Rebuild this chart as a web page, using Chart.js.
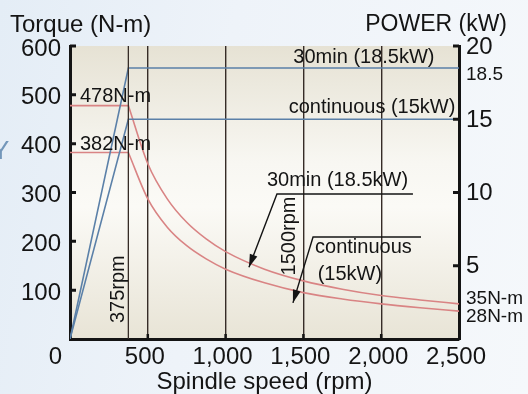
<!DOCTYPE html>
<html>
<head>
<meta charset="utf-8">
<script src="https://cdn.jsdelivr.net/npm/chart.js@4/dist/chart.umd.min.js"></script>
<style>
  html, body { margin: 0; padding: 0; }
  body {
    width: 528px; height: 394px; overflow: hidden;
    background: linear-gradient(100deg, #e4edf6 0%, #eef3f9 40%, #f5f8fb 100%);
  }
  canvas { display: block; }
</style>
</head>
<body>
<canvas id="c" width="528" height="394"></canvas>
<script>
// ---- data ----
// constant-torque region (0 .. base speed)
const flatRpm      = [0, 375];
const flat30min    = [478, 478];
const flatCont     = [382, 382];
// constant-power region (base speed .. max speed)
const curveRpm     = [375, 500, 625, 750, 875, 1000, 1250, 1500, 1750, 2000, 2250, 2500];
const curve30min   = [478, 359, 287, 239, 205, 179, 143, 119, 102, 89, 80, 72];
const curveCont    = [382, 287, 229, 191, 164, 143, 115, 95, 82, 72, 64, 57];
// power lines
const powerRpm     = [0, 375, 2500];
const power30min   = [0, 18.5, 18.5];
const powerCont    = [0, 15, 15];
// base-speed marker line
const baseRpm      = [375, 375];
const baseRange    = [0, 600];
// ticks
const xTickValues      = [0, 500, 1000, 1500, 2000, 2500];
const torqueTickValues = [0, 100, 200, 300, 400, 500, 600];
const powerTickValues  = [0, 5, 10, 15, 20];

const FONT = "'Liberation Sans', Arial, Helvetica, sans-serif";
const INK = '#141414';
const BLUE = '#5b80a8';
const RED = '#d98484';
const GRID = '#362c27';

const pts = (xs, ys) => xs.map((x, i) => ({ x: x, y: ys[i] }));

const bgPlugin = {
  id: 'plotBg',
  beforeDraw(chart) {
    const { ctx, chartArea: a } = chart;
    const g = ctx.createLinearGradient(0, a.top, 0, a.bottom);
    g.addColorStop(0, '#e6e2d4');
    g.addColorStop(0.4, '#f8f7f2');
    g.addColorStop(0.55, '#fbfaf6');
    g.addColorStop(1, '#e8e4d6');
    ctx.save();
    ctx.fillStyle = g;
    ctx.fillRect(a.left, a.top, a.right - a.left, a.bottom - a.top);
    ctx.restore();
  }
};

function txt(ctx, s, x, y, size, align, rot) {
  ctx.save();
  ctx.font = size + 'px ' + FONT;
  ctx.fillStyle = INK;
  ctx.textAlign = align || 'left';
  ctx.textBaseline = 'middle';
  ctx.translate(x, y);
  if (rot) ctx.rotate(rot);
  ctx.fillText(s, 0, 0);
  ctx.restore();
}

function arrowLine(ctx, pts2) {
  ctx.save();
  ctx.strokeStyle = INK;
  ctx.fillStyle = INK;
  ctx.lineWidth = 1.4;
  ctx.beginPath();
  ctx.moveTo(pts2[0][0], pts2[0][1]);
  for (let i = 1; i < pts2.length; i++) ctx.lineTo(pts2[i][0], pts2[i][1]);
  ctx.stroke();
  const [px, py] = pts2[pts2.length - 2];
  const [tx, ty] = pts2[pts2.length - 1];
  const ang = Math.atan2(ty - py, tx - px);
  const L = 13, W = 4;
  ctx.beginPath();
  ctx.moveTo(tx, ty);
  ctx.lineTo(tx - L * Math.cos(ang) + W * Math.sin(ang), ty - L * Math.sin(ang) - W * Math.cos(ang));
  ctx.lineTo(tx - L * Math.cos(ang) - W * Math.sin(ang), ty - L * Math.sin(ang) + W * Math.cos(ang));
  ctx.closePath();
  ctx.fill();
  ctx.restore();
}

const annoPlugin = {
  id: 'anno',
  afterDraw(chart) {
    const { ctx, chartArea: a } = chart;
    const X = chart.scales.x, T = chart.scales.yT, P = chart.scales.yP;
    const xp = v => X.getPixelForValue(v);
    const tp = v => T.getPixelForValue(v);
    const pp = v => P.getPixelForValue(v);

    // inward tick marks
    ctx.save();
    ctx.strokeStyle = INK;
    ctx.lineWidth = 3;
    ctx.beginPath();
    torqueTickValues.filter(v => v > 0).forEach(v => {
      ctx.moveTo(a.left, tp(v)); ctx.lineTo(a.left + 6, tp(v));
    });
    powerTickValues.filter(v => v > 0).forEach(v => {
      ctx.moveTo(a.right, pp(v)); ctx.lineTo(a.right - 6, pp(v));
    });
    ctx.stroke();
    ctx.lineWidth = 2.5;
    ctx.beginPath();
    xTickValues.filter(v => v > 0 && v < 2500).forEach(v => {
      ctx.moveTo(xp(v), a.bottom); ctx.lineTo(xp(v), a.bottom - 5);
    });
    ctx.stroke();
    ctx.restore();

    // axis headers
    txt(ctx, 'Torque (N-m)', 10, 25, 24, 'left');
    txt(ctx, 'POWER (kW)', 507, 25, 23, 'right');
    txt(ctx, '0', a.left - 8, 357, 24, 'right');

    // left notes
    txt(ctx, '478N-m', a.left + 10, tp(478) - 9, 20, 'left');
    txt(ctx, '382N-m', a.left + 10, tp(382) - 8, 20, 'left');

    // right notes
    txt(ctx, '18.5', a.right + 7, pp(18.5) + 7, 19, 'left');
    txt(ctx, '35N-m', a.right + 7, tp(72) - 5, 19, 'left');
    txt(ctx, '28N-m', a.right + 7, tp(57) + 6, 19, 'left');

    // power line labels
    txt(ctx, '30min (18.5kW)', xp(1889), tp(577), 20, 'center');
    txt(ctx, 'continuous (15kW)', xp(1941), tp(475), 20, 'center');

    // vertical rpm notes
    txt(ctx, '375rpm', xp(375) - 10, tp(102), 20, 'center', -Math.PI / 2);
    txt(ctx, '1500rpm', xp(1500) - 14, tp(211), 20, 'center', -Math.PI / 2);

    // leader annotations
    txt(ctx, '30min (18.5kW)', xp(1719), tp(324), 20, 'center');
    arrowLine(ctx, [[xp(2204), tp(297)], [xp(1330), tp(297)], [xp(1150), tp(147)]]);
    txt(ctx, 'continuous', xp(1575), tp(188), 20, 'left');
    txt(ctx, '(15kW)', xp(1799), tp(133), 20, 'center');
    arrowLine(ctx, [[xp(2256), tp(209)], [xp(1562), tp(209)], [xp(1433), tp(74)]]);

    // background fragment at left edge
    ctx.save();
    ctx.font = '26px ' + FONT;
    ctx.fillStyle = 'rgba(95,135,175,0.85)';
    ctx.textBaseline = 'middle';
    ctx.fillText('Y', -8, 152);
    ctx.restore();
  }
};

new Chart(document.getElementById('c'), {
  type: 'line',
  data: {
    datasets: [
      { data: pts(baseRpm, baseRange), yAxisID: 'yT', borderColor: GRID, borderWidth: 1.3 },
      { data: pts(powerRpm, power30min), yAxisID: 'yP', borderColor: BLUE, borderWidth: 1.6 },
      { data: pts(powerRpm, powerCont), yAxisID: 'yP', borderColor: BLUE, borderWidth: 1.6 },
      { data: pts(flatRpm, flat30min), yAxisID: 'yT', borderColor: RED, borderWidth: 1.6 },
      { data: pts(flatRpm, flatCont), yAxisID: 'yT', borderColor: RED, borderWidth: 1.6 },
      { data: pts(curveRpm, curve30min), yAxisID: 'yT', borderColor: RED, borderWidth: 1.6, cubicInterpolationMode: 'monotone' },
      { data: pts(curveRpm, curveCont), yAxisID: 'yT', borderColor: RED, borderWidth: 1.6, cubicInterpolationMode: 'monotone' }
    ]
  },
  options: {
    responsive: false,
    animation: false,
    layout: { padding: { top: 46, left: 0, right: 0, bottom: 0 } },
    plugins: { legend: { display: false }, tooltip: { enabled: false } },
    elements: { point: { radius: 0 }, line: { fill: false, borderCapStyle: 'round', borderJoinStyle: 'miter' } },
    scales: {
      x: {
        type: 'linear', min: 0, max: 2500,
        afterBuildTicks: s => { s.ticks = xTickValues.map(v => ({ value: v })); },
        ticks: {
          callback: v => v === 0 ? '' : v.toLocaleString('en-US'),
          font: { size: 24, family: FONT }, color: INK, padding: 4,
          maxRotation: 0, autoSkip: false, labelOffset: -3
        },
        grid: { color: GRID, lineWidth: 1.4, drawTicks: false },
        border: { color: INK, width: 3 },
        title: { display: true, text: 'Spindle speed (rpm)', color: INK,
                 font: { size: 24, family: FONT, lineHeight: 1 }, padding: { top: 0, bottom: 0 } },
        afterFit: s => { s.height = 55; }
      },
      yT: {
        type: 'linear', position: 'left', min: 0, max: 600,
        afterBuildTicks: s => { s.ticks = torqueTickValues.map(v => ({ value: v })); },
        ticks: { callback: v => v === 0 ? '' : String(v), font: { size: 24, family: FONT },
                 color: INK, padding: 9, labelOffset: 3 },
        grid: { display: false, drawTicks: false },
        border: { color: INK, width: 3 },
        afterFit: s => { s.width = 70; }
      },
      yP: {
        type: 'linear', position: 'right', min: 0, max: 20,
        afterBuildTicks: s => { s.ticks = powerTickValues.map(v => ({ value: v })); },
        ticks: { callback: v => v === 0 ? '' : String(v), font: { size: 24, family: FONT },
                 color: INK, padding: 7, labelOffset: 1 },
        grid: { display: false, drawTicks: false },
        border: { color: INK, width: 3 },
        afterFit: s => { s.width = 69; }
      }
    }
  },
  plugins: [bgPlugin, annoPlugin]
});
</script>
</body>
</html>
